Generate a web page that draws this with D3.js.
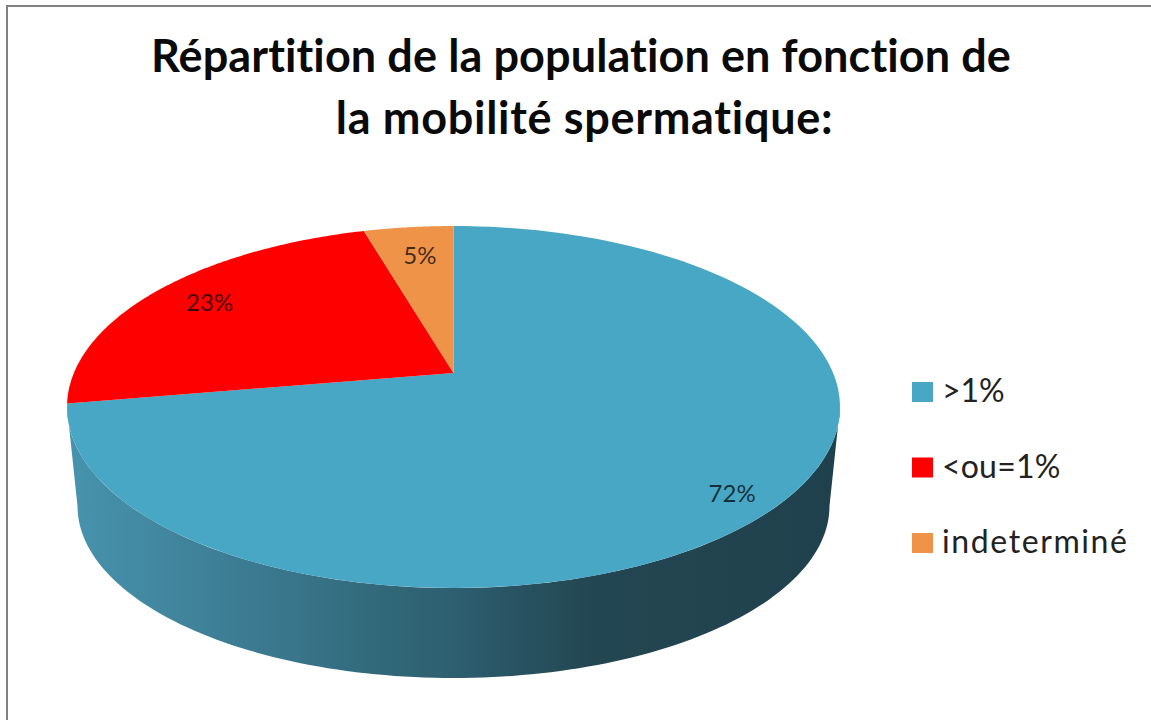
<!DOCTYPE html>
<html><head><meta charset="utf-8">
<script src="https://cdn.jsdelivr.net/npm/d3@7"></script>
<style>html,body{margin:0;padding:0;background:#fff}svg{display:block}text{font-family:Lato,"Open Sans",sans-serif;font-variant-ligatures:none}</style>
</head><body><svg id="c" width="1151" height="720"></svg>
<script>
const titleLines = ["Répartition de la population en fonction de", "la mobilité spermatique:"];
const categories = [">1%", "<ou=1%", "indeterminé"];
const values = [72.3, 23.2, 4.5];
const colors = ["#47a7c4", "#fe0000", "#ee9348"];

const W = 1151, H = 720;
const svg = d3.select("#c");

// Perspective view of the disc: the centre of the circle sits above the centre of the ellipse.
const view = {cx: 453.5, cy: 373, a: 379.6, b: 174.6, k: 0.188};
const project = (t, r = 1) => {
  const s = Math.sin(t) * r, c = Math.cos(t) * r, w = 1 + view.k * c;
  return [view.cx + view.a * s / w, view.cy - view.b * c / w];
};
const lineGen = d3.line();
const TAU = Math.PI * 2;
const sweep = (a, b) => d3.range(0, 121).map(i => a + (b - a) * i / 120);

const slices = d3.pie().sort(null).value(d => d)(values);

// Wall gradient
const defs = svg.append("defs");
const grad = defs.append("linearGradient").attr("id", "wall")
  .attr("gradientUnits", "userSpaceOnUse").attr("x1", 67).attr("x2", 840).attr("y1", 0).attr("y2", 0);
[[0, "#4793ae"], [0.17, "#3f8299"], [0.3, "#38748a"], [0.43, "#306676"], [0.5, "#2d5f70"], [0.57, "#295464"], [0.68, "#234752"], [1, "#1f414d"]]
  .forEach(([o, c]) => grad.append("stop").attr("offset", o).attr("stop-color", c));

// Wall: lower rim (front half) joined to the upper rim at its widest points
const lower = {cx: 453.5, cy: 506, rx: 376, ry: 172};
const widest = Math.acos(-view.k);
const lowerPts = sweep(0, Math.PI).map(t => [lower.cx + lower.rx * Math.cos(t), lower.cy + lower.ry * Math.sin(t)]);
const upperPts = sweep(TAU - widest, widest).map(t => project(t));
svg.append("path").attr("d", lineGen(lowerPts.concat(upperPts)) + "Z").attr("fill", "url(#wall)");

// Top face
svg.append("g").selectAll("path").data(slices).join("path")
  .attr("d", d => lineGen([[view.cx, view.cy]].concat(sweep(d.startAngle, d.endAngle).map(t => project(t)))) + "Z")
  .attr("fill", (d, i) => colors[i]);

// Data labels
const labelRadius = [0.86, 0.82, 0.76];
const labelNudge = [[0, 13], [0, 0], [2, -2]];
svg.append("g").selectAll("text").data(slices).join("text")
  .attr("transform", (d, i) => {
    const p = project((d.startAngle + d.endAngle) / 2, labelRadius[i]);
    return `translate(${p[0] + labelNudge[i][0]},${p[1] + labelNudge[i][1]})`;
  })
  .attr("text-anchor", "middle").attr("dy", "0.35em")
  .attr("font-size", 24).attr("fill", "#000").attr("fill-opacity", 0.72)
  .text(d => Math.round(d.value) + "%");

// Title
const titleX = [581, 584.5];
const titleSpacing = [0.1, 0.7];
svg.append("g").selectAll("text").data(titleLines).join("text")
  .attr("x", (d, i) => titleX[i]).attr("y", (d, i) => 72 + i * 62)
  .attr("text-anchor", "middle").attr("font-size", 45).attr("font-weight", 700).attr("fill", "#0a0a0a")
  .attr("letter-spacing", (d, i) => titleSpacing[i])
  .text(d => d);

// Legend
const legendSpacing = [0, 0.2, 1.6];
const legendY = d3.scalePoint().domain(categories).range([402, 553]);
const legend = svg.append("g").selectAll("g").data(categories).join("g")
  .attr("transform", d => `translate(912,${legendY(d)})`);
legend.append("rect").attr("x", 0).attr("y", -20).attr("width", 21).attr("height", 20)
  .attr("fill", (d, i) => colors[i]);
legend.append("text").attr("x", 30).attr("y", 0).attr("font-size", 32)
  .attr("letter-spacing", (d, i) => legendSpacing[i]).attr("fill", "#222").text(d => d);

// Frame
svg.append("path").attr("d", `M7,${H}V6H${W}`).attr("fill", "none").attr("stroke", "#808080").attr("stroke-width", 2);
</script></body></html>
